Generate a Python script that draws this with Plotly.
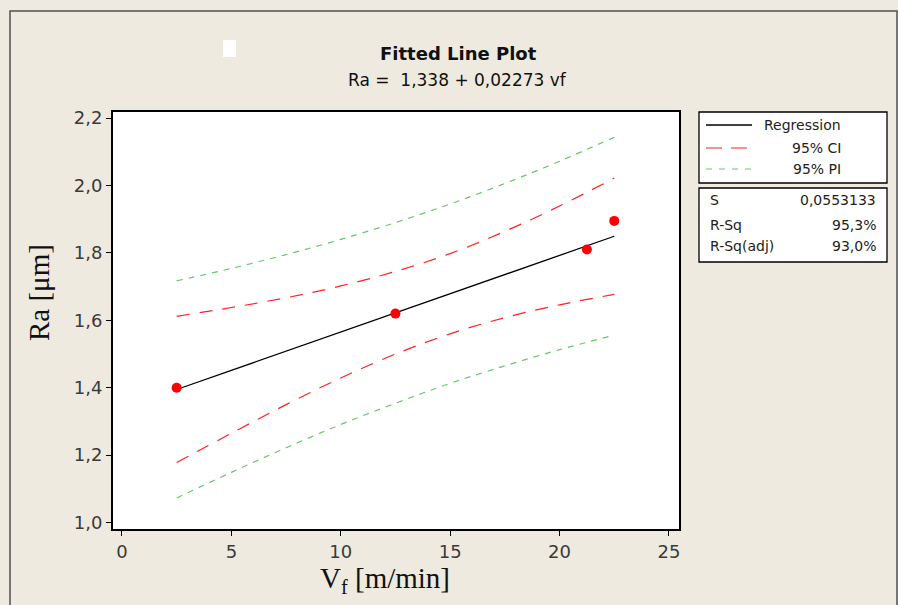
import plotly.graph_objects as go

# Measured surface roughness against feed speed
vf = [2.5, 12.5, 21.25, 22.5]
ra = [1.40, 1.62, 1.81, 1.895]

# Fitted line: Ra = 1,338 + 0,02273 vf
intercept = 1.338
slope = 0.02273
fit_x = [2.5, 22.5]

# Confidence / prediction band values along the fitted range
band_x = [2.5, 5.0, 7.5, 10.0, 12.5, 15.0, 17.5, 20.0, 22.5]
ci_upper = [1.612, 1.638, 1.667, 1.702, 1.745, 1.798, 1.864, 1.939, 2.022]
ci_lower = [1.178, 1.265, 1.350, 1.429, 1.500, 1.560, 1.608, 1.646, 1.677]
pi_upper = [1.717, 1.754, 1.795, 1.840, 1.890, 1.945, 2.006, 2.072, 2.143]
pi_lower = [1.073, 1.149, 1.222, 1.291, 1.354, 1.413, 1.465, 1.513, 1.556]

x_ticks = [0, 5, 10, 15, 20, 25]
y_ticks = [1.0, 1.2, 1.4, 1.6, 1.8, 2.0, 2.2]

legend_labels = ["Regression", "95% CI", "95% PI"]
stats_names = ["S", "R-Sq", "R-Sq(adj)"]
stats_values = ["0,0553133", "95,3%", "93,0%"]

W, H = 898, 605
L, R, T, B = 113, 679, 112, 529  # plot area in pixels
BG = "#eeeae0"
RED = "#ff2020"
GREEN = "#66c866"
SANS = "DejaVu Sans"
SERIF = "Liberation Serif"


def px(X, Y):
    """Pixel position -> paper coordinates of the plot area."""
    return (X - L) / (R - L), (B - Y) / (B - T)


fig = go.Figure()

fit_y = [intercept + slope * x for x in fit_x]

fig.add_trace(go.Scatter(x=band_x, y=pi_upper, mode="lines", line_shape="spline",
                         line=dict(color=GREEN, width=1.2, dash="6px,6px"), hoverinfo="skip"))
fig.add_trace(go.Scatter(x=band_x, y=pi_lower, mode="lines", line_shape="spline",
                         line=dict(color=GREEN, width=1.2, dash="6px,6px"), hoverinfo="skip"))
fig.add_trace(go.Scatter(x=band_x, y=ci_upper, mode="lines", line_shape="spline",
                         line=dict(color=RED, width=1.2, dash="13px,10px"), hoverinfo="skip"))
fig.add_trace(go.Scatter(x=band_x, y=ci_lower, mode="lines", line_shape="spline",
                         line=dict(color=RED, width=1.2, dash="13px,10px"), hoverinfo="skip"))
fig.add_trace(go.Scatter(x=fit_x, y=fit_y, mode="lines",
                         line=dict(color="black", width=1.3)))
fig.add_trace(go.Scatter(x=vf, y=ra, mode="markers",
                         marker=dict(color="#ff0000", size=10, line=dict(width=0))))

shapes = []
annotations = []

# outer frame of the graph window
x0, y0 = px(10, 11)
x1, y1 = px(897, 650)
shapes.append(dict(type="rect", xref="paper", yref="paper", x0=x0, y0=y0, x1=x1, y1=y1,
                   line=dict(color="#505050", width=1.5)))

# small white marker near the title
x0, y0 = px(223, 40)
x1, y1 = px(236, 57)
shapes.append(dict(type="rect", xref="paper", yref="paper", x0=x0, y0=y0, x1=x1, y1=y1,
                   fillcolor="white", line=dict(width=0)))

# legend box and stats box
for top, bottom in [(112, 183), (188, 262)]:
    x0, y0 = px(699, bottom)
    x1, y1 = px(887, top)
    shapes.append(dict(type="rect", xref="paper", yref="paper", x0=x0, y0=y0, x1=x1, y1=y1,
                       fillcolor="white", line=dict(color="black", width=1.3)))

legend_styles = [("black", "solid", 1.3), (RED, "16px,9px", 1.2), (GREEN, "6px,7px", 1.2)]
legend_rows = [125, 148, 169]
for label, (col, dash, wd), yy in zip(legend_labels, legend_styles, legend_rows):
    x0, ya = px(706, yy)
    x1, _ = px(752, yy)
    shapes.append(dict(type="line", xref="paper", yref="paper", x0=x0, y0=ya, x1=x1, y1=ya,
                       line=dict(color=col, width=wd, dash=dash)))
    tx, _ = px(843, yy)
    annotations.append(dict(text=label, xref="paper", yref="paper", x=tx, y=ya,
                            xanchor="right", yanchor="middle", showarrow=False,
                            font=dict(family=SANS, size=14, color="#222")))

stats_rows = [200, 225, 246]
for name, val, yy in zip(stats_names, stats_values, stats_rows):
    nx, ya = px(708, yy)
    vx, _ = px(878, yy)
    annotations.append(dict(text=name, xref="paper", yref="paper", x=nx, y=ya,
                            xanchor="left", yanchor="middle", showarrow=False,
                            font=dict(family=SANS, size=14, color="#222")))
    annotations.append(dict(text=val, xref="paper", yref="paper", x=vx, y=ya,
                            xanchor="right", yanchor="middle", showarrow=False,
                            font=dict(family=SANS, size=14, color="#222")))

# titles
tx, ty = px(458, 54)
annotations.append(dict(text="<b>Fitted Line Plot</b>", xref="paper", yref="paper", x=tx, y=ty,
                        xanchor="center", yanchor="middle", showarrow=False,
                        font=dict(family=SANS, size=18, color="#111")))
tx, ty = px(457, 80)
annotations.append(dict(text="Ra =\u00a0\u00a01,338 + 0,02273 vf", xref="paper", yref="paper",
                        x=tx, y=ty, xanchor="center", yanchor="middle", showarrow=False,
                        font=dict(family=SANS, size=17, color="#111")))

# axis titles
tx, ty = px(385, 580)
annotations.append(dict(text="V<sub>f</sub> [m/min]", xref="paper", yref="paper", x=tx, y=ty,
                        xanchor="center", yanchor="middle", showarrow=False,
                        font=dict(family=SERIF, size=29, color="#111")))
tx, ty = px(39, 292)
annotations.append(dict(text="Ra [μm]", xref="paper", yref="paper", x=tx, y=ty,
                        xanchor="center", yanchor="middle", showarrow=False, textangle=-90,
                        font=dict(family=SERIF, size=29, color="#111")))

axis_common = dict(showgrid=False, zeroline=False, showline=True, mirror=True,
                   linecolor="black", linewidth=2, ticks="outside", ticklen=5,
                   tickwidth=1, tickcolor="black",
                   tickfont=dict(family=SANS, size=18, color="#3a3a3a"))

fig.update_layout(
    width=W, height=H,
    margin=dict(l=L, r=W - R, t=T, b=H - B, pad=0),
    paper_bgcolor=BG, plot_bgcolor="white",
    showlegend=False,
    separators=",.",
    shapes=shapes,
    annotations=annotations,
    xaxis=dict(range=[-0.41, 25.46], tickvals=x_ticks, **axis_common),
    yaxis=dict(range=[0.981, 2.218], tickvals=y_ticks, tickformat=".1f", **axis_common),
)

fig.write_html("out.html")
